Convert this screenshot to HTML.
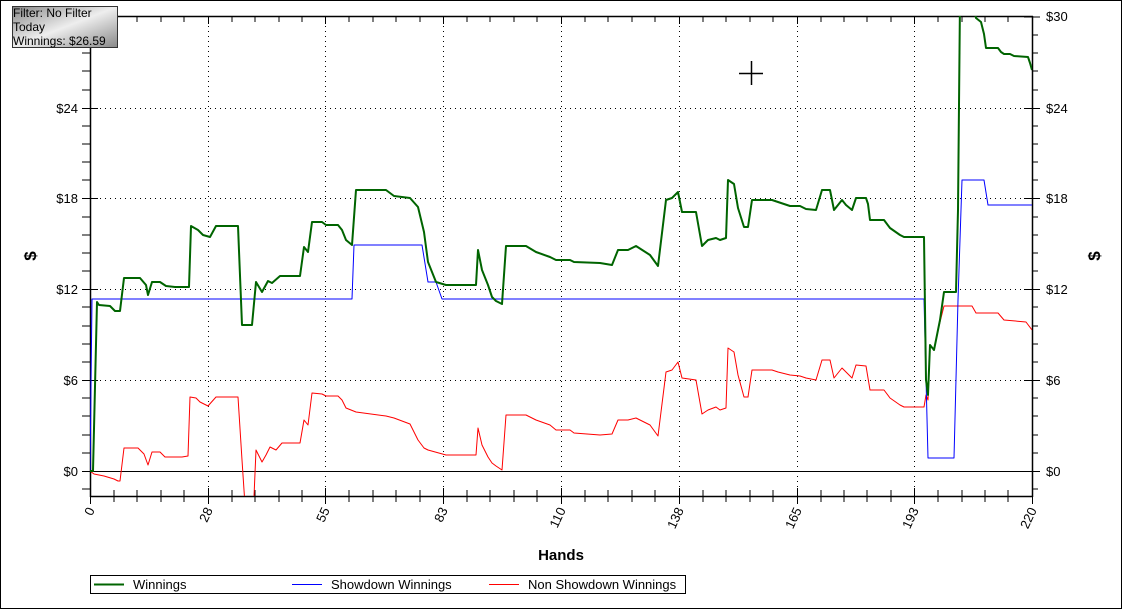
<!DOCTYPE html>
<html><head><meta charset="utf-8"><style>
body{margin:0;background:#fff}
svg{display:block;font-family:"Liberation Sans",sans-serif}
</style></head><body>
<svg width="1122" height="609" viewBox="0 0 1122 609" xmlns="http://www.w3.org/2000/svg">
<rect x="0.5" y="0.5" width="1121" height="608" fill="#fff" stroke="#000"/>
<defs><clipPath id="c"><rect x="90" y="16" width="942" height="480"/></clipPath>
<linearGradient id="g" x1="0" y1="0" x2="1" y2="1"><stop offset="0" stop-color="#888"/><stop offset="0.5" stop-color="#eee"/><stop offset="1" stop-color="#888"/></linearGradient></defs>
<g stroke="#000" stroke-dasharray="1,4" stroke-width="1">
<line x1="90" y1="108.5" x2="1032" y2="108.5"/><line x1="90" y1="198.5" x2="1032" y2="198.5"/>
<line x1="90" y1="289.5" x2="1032" y2="289.5"/><line x1="90" y1="380.5" x2="1032" y2="380.5"/>
<line x1="208.5" y1="16" x2="208.5" y2="496"/><line x1="325.5" y1="16" x2="325.5" y2="496"/>
<line x1="443.5" y1="16" x2="443.5" y2="496"/><line x1="561.5" y1="16" x2="561.5" y2="496"/>
<line x1="679.5" y1="16" x2="679.5" y2="496"/><line x1="797.5" y1="16" x2="797.5" y2="496"/>
<line x1="914.5" y1="16" x2="914.5" y2="496"/>
</g>
<line x1="90" y1="471.5" x2="1032" y2="471.5" stroke="#000"/>
<g stroke="#000" stroke-width="1.5" fill="none">
<line x1="90.5" y1="16" x2="90.5" y2="497"/><line x1="1032.5" y1="16" x2="1032.5" y2="497"/>
<line x1="90" y1="16.5" x2="1033" y2="16.5"/><line x1="90" y1="496.5" x2="1033" y2="496.5"/>
</g>
<g stroke="#000" stroke-width="1">
<path d="M82 17H98M82 35H90M82 53H90M82 71H90M82 90H90M82 108.5H98M82 126H90M82 144H90M82 162H90M82 180H90M82 198.5H98M82 217H90M82 235H90M82 253H90M82 271H90M82 289.5H98M82 307H90M82 326H90M82 344H90M82 362H90M82 380.5H98M82 398H90M82 416H90M82 435H90M82 453H90M82 471.5H98M82 489H90"/>
<path d="M1024 17H1040M1032 35H1038M1032 53H1038M1032 71H1038M1032 90H1038M1024 108.5H1040M1032 126H1038M1032 144H1038M1032 162H1038M1032 180H1038M1024 198.5H1040M1032 217H1038M1032 235H1038M1032 253H1038M1032 271H1038M1024 289.5H1040M1032 307H1038M1032 326H1038M1032 344H1038M1032 362H1038M1024 380.5H1040M1032 398H1038M1032 416H1038M1032 435H1038M1032 453H1038M1024 471.5H1040M1032 489H1038"/>
</g>
<g stroke="#000" stroke-width="1">
<path d="M90.5 488V504M114 490V502M137 490V502M161 490V502M184 490V502M208.5 488V504M232 490V502M255 490V502M279 490V502M302 490V502M325.5 488V504M349 490V502M373 490V502M396 490V502M420 490V502M443.5 488V504M467 490V502M490 490V502M514 490V502M537 490V502M561.5 488V504M585 490V502M608 490V502M632 490V502M655 490V502M679.5 488V504M703 490V502M726 490V502M750 490V502M773 490V502M797.5 488V504M821 490V502M844 490V502M867 490V502M891 490V502M914.5 488V504M938 490V502M962 490V502M985 490V502M1008 490V502M1032.5 488V504"/>
<path d="M114 16V22M137 16V22M161 16V22M184 16V22M208.5 16V24M232 16V22M255 16V22M279 16V22M302 16V22M325.5 16V24M349 16V22M373 16V22M396 16V22M420 16V22M443.5 16V24M467 16V22M490 16V22M514 16V22M537 16V22M561.5 16V24M585 16V22M608 16V22M632 16V22M655 16V22M679.5 16V24M703 16V22M726 16V22M750 16V22M773 16V22M797.5 16V24M821 16V22M844 16V22M867 16V22M891 16V22M914.5 16V24M938 16V22M962 16V22M985 16V22M1008 16V22"/>
</g>
<g font-size="13" fill="#000" text-anchor="end">
<text x="78" y="113">$24</text><text x="78" y="203">$18</text><text x="78" y="294">$12</text><text x="78" y="385">$6</text><text x="78" y="476">$0</text>
</g>
<g font-size="13" fill="#000">
<text x="1046" y="21">$30</text><text x="1046" y="113">$24</text><text x="1046" y="203">$18</text><text x="1046" y="294">$12</text><text x="1046" y="385">$6</text><text x="1046" y="476">$0</text>
</g>
<g font-size="13" fill="#000" text-anchor="end">
<text transform="translate(95,510) rotate(-65)">0</text>
<text transform="translate(213,510) rotate(-65)">28</text>
<text transform="translate(330,510) rotate(-65)">55</text>
<text transform="translate(448,510) rotate(-65)">83</text>
<text transform="translate(566,510) rotate(-65)">110</text>
<text transform="translate(684,510) rotate(-65)">138</text>
<text transform="translate(802,510) rotate(-65)">165</text>
<text transform="translate(919,510) rotate(-65)">193</text>
<text transform="translate(1037,510) rotate(-65)">220</text>
</g>
<text x="561" y="560" font-size="15" font-weight="bold" text-anchor="middle">Hands</text>
<text transform="translate(36,256) rotate(-90)" font-size="17" font-weight="bold" text-anchor="middle">$</text>
<text transform="translate(1100,256) rotate(-90)" font-size="17" font-weight="bold" text-anchor="middle">$</text>
<g clip-path="url(#c)" fill="none" stroke-linejoin="round">
<polyline stroke="#f00" stroke-width="1" points="90,471 94,474 104,476 114,479 118,481 120,481 124,448 138,448 144,454 148,465 152,452 160,452 165,457 182,457 188,456 190,397 196,398 200,402 208,406 216,397 238,397 242,460 246,520 253,520 256,450 262,462 266,455 270,447 276,450 282,443 300,443 304,420 308,425 312,393 322,394 326,396 338,396 342,400 346,408 356,412 386,416 394,418 410,424 418,440 424,448 428,450 446,455 476,455 478,428 482,445 488,457 492,463 496,466 502,470 506,415 526,415 536,420 550,425 556,430 570,430 574,433 600,435 612,434 618,420 628,420 636,418 650,425 658,436 666,372 672,370 678,362 682,378 696,380 702,414 708,410 716,407 720,410 726,408 728,348 734,352 738,375 744,397 748,397 752,370 772,370 778,372 790,375 800,376 806,378 816,380 822,360 830,360 834,378 842,368 846,372 852,378 856,365 866,366 870,390 884,390 890,398 900,405 904,407 924,407 926,395 928,400 930,345 934,350 938,330 944,306 960,306 972,306 976,313 998,313 1004,320 1026,322 1032,330"/>
<polyline stroke="#00f" stroke-width="1" points="90,471 92,299 352,299 354,245 422,245 428,282 436,282 442,299 924,299 928,458 930,458 954,458 958,300 962,180 984,180 988,205 1032,205"/>
<polyline stroke="#006400" stroke-width="2" points="90,471 93,471 97,302 99,305 110,306 115,311 120,311 124,278 140,278 146,285 148,295 152,282 160,282 166,286 175,287 189,287 191,226 198,230 203,235 210,237 216,226 238,226 242,325 252,325 256,282 262,292 268,281 272,283 280,276 300,276 304,247 308,252 312,222 322,222 326,225 338,225 342,230 346,240 352,245 356,190 386,190 394,196 410,198 418,207 424,232 428,262 436,282 446,285 476,285 478,250 482,270 488,285 492,297 496,301 502,304 506,246 526,246 536,252 550,257 556,260 570,260 574,262 600,263 612,265 618,250 628,250 636,246 650,255 658,266 666,200 672,198 678,192 682,212 696,212 702,246 708,240 716,238 720,240 726,238 728,180 734,184 738,208 744,227 748,227 752,200 772,200 778,202 790,206 800,206 806,209 816,210 822,190 830,190 834,210 842,200 846,205 852,210 856,198 866,198 868,204 870,220 884,220 890,228 900,235 904,237 924,237 926,380 928,395 930,345 934,350 938,330 940,320 944,292 956,292 958,210 960,0 972,0 976,18 981,22 984,34 986,48 998,48 1001,52 1004,54 1010,54 1014,56 1028,57 1030,63 1032,70"/>
</g>
<path d="M739 73.5H763M751.5 61V85" stroke="#000" stroke-width="1.5"/>
<rect x="12.5" y="6.5" width="105" height="41" fill="url(#g)" stroke="#333"/>
<g font-size="12" fill="#000"><text x="13" y="17">Filter: No Filter</text><text x="13" y="31">Today</text><text x="13" y="45">Winnings: $26.59</text></g>
<rect x="90.5" y="575.5" width="595" height="18" fill="#fff" stroke="#000"/>
<line x1="94" y1="584.5" x2="124" y2="584.5" stroke="#006400" stroke-width="2"/>
<text x="133" y="589" font-size="13">Winnings</text>
<line x1="292" y1="584.5" x2="322" y2="584.5" stroke="#00f"/>
<text x="331" y="589" font-size="13">Showdown Winnings</text>
<line x1="489" y1="584.5" x2="519" y2="584.5" stroke="#f00"/>
<text x="528" y="589" font-size="13">Non Showdown Winnings</text>
</svg>
</body></html>
